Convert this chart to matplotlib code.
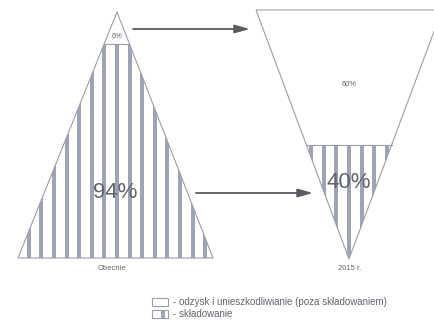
"""Share of waste: landfilled vs recovered, now and target for 2015."""

import matplotlib

matplotlib.use("Agg")
import matplotlib.pyplot as plt
from matplotlib.patches import Polygon, Rectangle

periods = ["Obecnie", "2015 r."]
recovered_pct = [6, 60]
landfilled_pct = [94, 40]
legend_labels = [
    "- odzysk i unieszkodliwianie (poza składowaniem)",
    "- składowanie",
]

STRIPE = "#9ea3b6"
EDGE = "#9a9eaa"
TEXT = "#62656d"
ARROW = "#5a5b60"

plt.rcParams["font.family"] = ["Liberation Sans", "DejaVu Sans"]


def stripes(ax, cx, y0, y1, clip, pitch=12.6, width=4.0):
    for k in range(-9, 10):
        x = cx + k * pitch
        bar = Rectangle((x - width / 2, y0), width, y1 - y0, color=STRIPE, lw=0, zorder=4)
        ax.add_patch(bar)
        bar.set_clip_path(clip)


def main() -> None:
    fig = plt.figure(figsize=(4.34, 3.25), dpi=100)
    ax = fig.add_axes([0, 0, 1, 1])
    ax.set_xlim(0, 434)
    ax.set_ylim(325, 0)
    ax.axis("off")

    # left: apex up
    apex = (117, 12)
    base_y = 258
    x_l, x_r = 18, 213
    left_pts = [apex, (x_l, base_y), (x_r, base_y)]
    ax.add_patch(Polygon(left_pts, closed=True, fc="white", ec="none", zorder=3))
    split_l = 44
    t = (split_l - apex[1]) / (base_y - apex[1])
    sl, sr = apex[0] + (x_l - apex[0]) * t, apex[0] + (x_r - apex[0]) * t
    lower_l = Polygon([(sl, split_l), (sr, split_l), (x_r, base_y), (x_l, base_y)],
                      closed=True, fc="none", ec="none")
    ax.add_patch(lower_l)
    stripes(ax, 117, split_l, base_y, lower_l)
    ax.plot([sl, sr], [split_l, split_l], color=EDGE, lw=0.8, zorder=5)
    ax.add_patch(Polygon(left_pts, closed=True, fc="none", ec=EDGE, lw=0.8, zorder=5))

    # right: apex down
    top_y = 10
    tip = (349, 259)
    right_pts = [(256, top_y), (442, top_y), tip]
    ax.add_patch(Polygon(right_pts, closed=True, fc="white", ec="none", zorder=3))
    split_r = 145
    half_r = 93 * (tip[1] - split_r) / (tip[1] - top_y)
    lower_r = Polygon([(349 - half_r, split_r), (349 + half_r, split_r), tip],
                      closed=True, fc="none", ec="none")
    ax.add_patch(lower_r)
    stripes(ax, 349, split_r, tip[1], lower_r)
    ax.plot([349 - half_r, 349 + half_r], [split_r, split_r], color=EDGE, lw=0.8, zorder=5)
    ax.add_patch(Polygon(right_pts, closed=True, fc="none", ec=EDGE, lw=0.8, zorder=5))

    # labels
    ax.text(117, 37, f"{recovered_pct[0]}%", ha="center", va="center",
            fontsize=5.5, color=TEXT, zorder=6)
    ax.text(115, 193, f"{landfilled_pct[0]}%", ha="center", va="center",
            fontsize=16, color=TEXT, zorder=6)
    ax.text(349, 84, f"{recovered_pct[1]}%", ha="center", va="center",
            fontsize=5.5, color=TEXT, zorder=6)
    ax.text(349, 182, f"{landfilled_pct[1]}%", ha="center", va="center",
            fontsize=16, color=TEXT, zorder=6)
    ax.text(112, 269, periods[0], ha="center", va="center", fontsize=5.5, color=TEXT)
    ax.text(350, 269, periods[1], ha="center", va="center", fontsize=5.5, color=TEXT)

    # arrows
    for (x0, y0, x1) in [(133, 29, 250), (196, 193, 313)]:
        ax.annotate("", xy=(x1, y0), xytext=(x0, y0),
                    arrowprops=dict(arrowstyle="-|>,head_length=0.9,head_width=0.25",
                                    color=ARROW, lw=1.3, shrinkA=0, shrinkB=0))

    # legend
    ax.add_patch(Rectangle((152, 298), 16, 8, fc="white", ec=EDGE, lw=0.8))
    ax.add_patch(Rectangle((152, 310), 16, 8, fc="white", ec=EDGE, lw=0.8))
    ax.add_patch(Rectangle((161, 310), 3.5, 8, fc=STRIPE, lw=0))
    ax.text(173, 302, legend_labels[0], ha="left", va="center", fontsize=7, color=TEXT)
    ax.text(173, 314, legend_labels[1], ha="left", va="center", fontsize=7, color=TEXT)

    fig.savefig("out.png", dpi=100, facecolor="white")


if __name__ == "__main__":
    main()
